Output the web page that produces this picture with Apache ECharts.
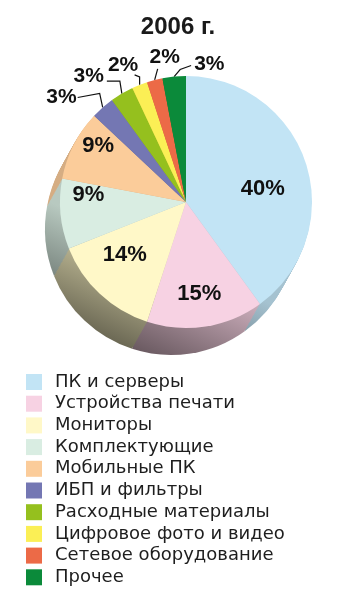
<!DOCTYPE html>
<html><head><meta charset="utf-8">
<script src="https://cdn.jsdelivr.net/npm/echarts@6/dist/echarts.min.js"></script>
<style>html,body{margin:0;padding:0;background:#fff}#c{width:356px;height:600px}</style>
</head><body><div id="c"></div>
<script>
const chartTitle = '2006 г.';
const categories = ['ПК и серверы','Устройства печати','Мониторы','Комплектующие','Мобильные ПК','ИБП и фильтры','Расходные материалы','Цифровое фото и видео','Сетевое оборудование','Прочее'];
const shares = [40,15,14,9,9,3,3,2,2,3];
const colors = ['#c2e4f5','#f7d2e3','#fff8c8','#d9ede2','#fbcc9a','#7477b3','#95c01e','#fbef55','#ec6a47','#0b8a3a'];

// geometry / styling (not data)
const CX = 186, CY = 202, R = 126;
const DEPTH = [-15, 27], LAYERS = 20;
// label placement tweaks relative to library-computed anchors
const guides = {
  0: {type:'in', d:[14, 7]},
  1: {type:'in', d:[3, 27]},
  2: {type:'in', d:[-16, 5]},
  3: {type:'in', d:[-32, -13]},
  4: {type:'in', d:[-29, -26]},
  5: {type:'out', m:[-3,-14], e:[-25,-10], t:[-26,-10], align:'right'},
  6: {type:'out', m:[-2,-12.5], e:[-15,-12.5], t:[-18,-17], align:'right'},
  7: {type:'out', m:[0,-8], e:[-5,-10], t:[-16.5,-20], align:'center'},
  8: {type:'out', m:[3,-11], e:[3,-11], t:[10,-23], align:'center'},
  9: {type:'out', m:[6,-7], e:[17,-11], t:[20,-12.5], align:'left'}
};

function shade(hex, f){
  const n = parseInt(hex.slice(1),16);
  const r = Math.round(((n>>16)&255)*f), g = Math.round(((n>>8)&255)*f), b = Math.round((n&255)*f);
  return 'rgb('+r+','+g+','+b+')';
}

const chart = echarts.init(document.getElementById('c'), null, {renderer:'canvas'});
const series = [];
const dir = [-0.42, 0.91];
for (let k = LAYERS; k >= 1; k--) {
  const cx = CX + DEPTH[0]*k/LAYERS, cy = CY + DEPTH[1]*k/LAYERS;
  const x1 = CX + dir[0]*57, y1 = CY + dir[1]*57, x2 = CX + dir[0]*157, y2 = CY + dir[1]*157;
  series.push({
    type:'pie', silent:true, center:[cx, cy], radius:R, startAngle:90,
    animation:false, label:{show:false}, labelLine:{show:false},
    emphasis:{disabled:true}, tooltip:{show:false},
    data: shares.map((v,i)=>({value:v, name:categories[i], itemStyle:{color:
      new echarts.graphic.LinearGradient(x1,y1,x2,y2,[{offset:0,color:shade(colors[i],0.85)},{offset:1,color:shade(colors[i],0.42)}], true)}}))
  });
}
series.push({
  type:'pie', center:[CX, CY], radius:R, startAngle:90, animation:false,
  avoidLabelOverlap:false, emphasis:{disabled:true},
  label:{show:true, formatter:p=>p.value+'%', color:'#111', fontFamily:'Liberation Sans', fontWeight:'bold', fontSize:22},
  labelLine:{show:true, length:8, length2:8, lineStyle:{color:'#111', width:1.2}},
  labelLayout: function(params){
    const g = guides[params.dataIndex];
    if (!g) return {};
    if (g.type === 'in') return {dx:g.d[0], dy:g.d[1]};
    const pts = params.labelLinePoints;
    if (!pts) return {};
    const s = pts[0];
    return {
      x: s[0]+g.t[0], y: s[1]+g.t[1], align:g.align, verticalAlign:'middle',
      labelLinePoints: [[s[0],s[1]],[s[0]+g.m[0],s[1]+g.m[1]],[s[0]+g.e[0],s[1]+g.e[1]]]
    };
  },
  data: shares.map((v,i)=>({value:v, name:categories[i], itemStyle:{color:colors[i]},
    label:{position: guides[i].type==='in' ? 'inside' : 'outside', fontSize: guides[i].type==='in'?22:21},
    labelLine:{show: guides[i].type!=='in'}}))
});

chart.setOption({
  animation:false,
  title:{text:chartTitle, left:'center', top:10, textStyle:{fontFamily:'Liberation Sans', fontWeight:'bold', fontSize:24, color:'#1a1a1a'}},
  legend:{orient:'vertical', left:26, top:373, height:226, padding:0, itemWidth:16, itemHeight:16, itemGap:3.7, icon:'rect', selectedMode:false,
    textStyle:{fontFamily:'DejaVu Sans', fontSize:18, lineHeight:17, color:'#1e1e1e', padding:[0,0,0,8]},
    data: categories.map((n,i)=>({name:n, itemStyle:{color:colors[i]}}))},
  series: series
});
</script></body></html>
